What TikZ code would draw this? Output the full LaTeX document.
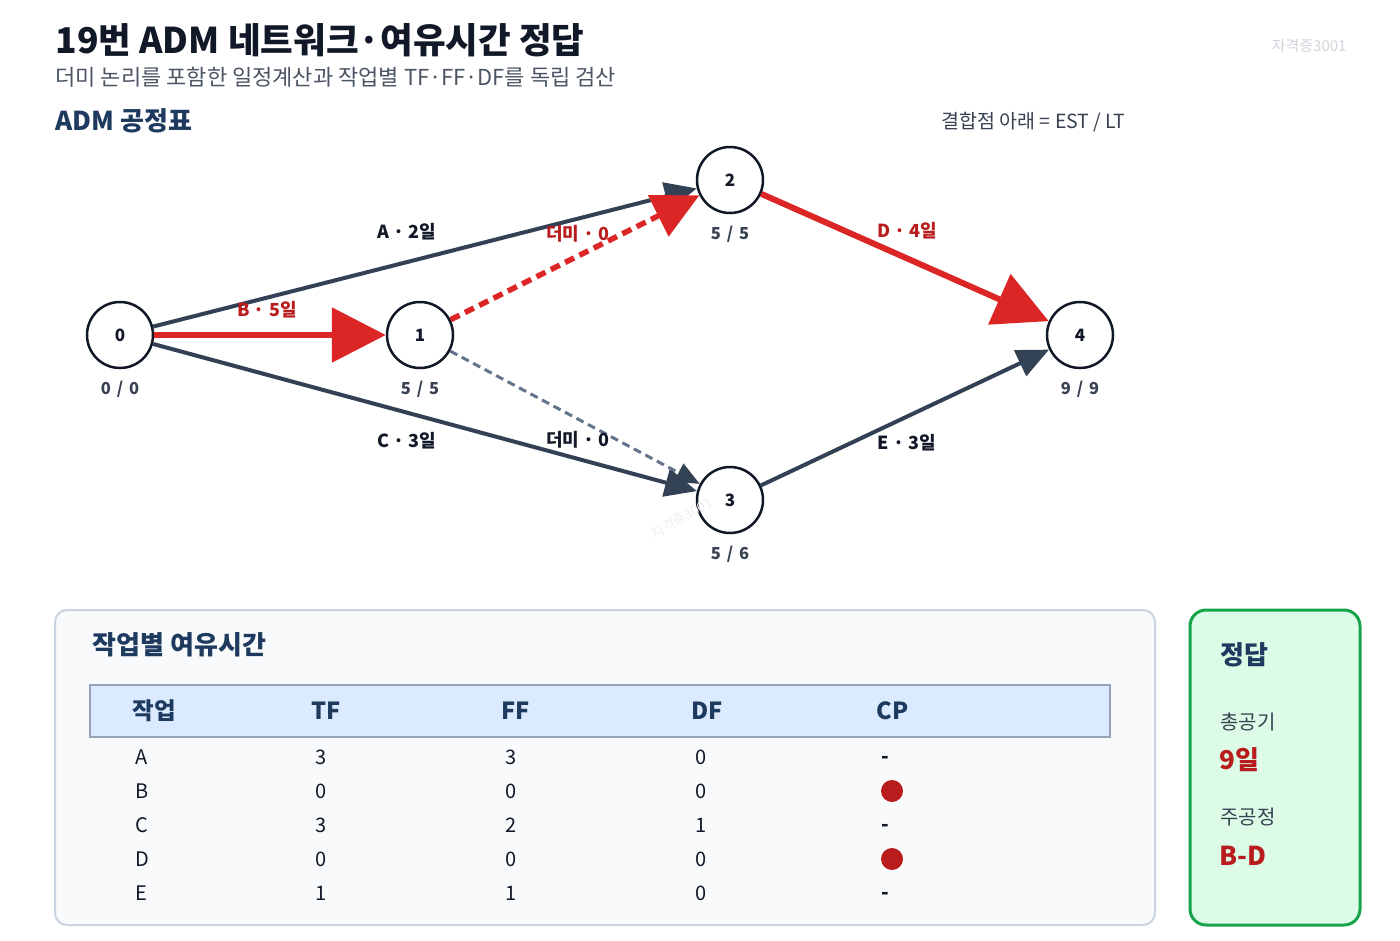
\documentclass[tikz,border=0pt]{standalone}
\usepackage{fontspec}
\setmainfont{Noto Sans CJK KR}
\usetikzlibrary{arrows.meta}
\definecolor{ink}{HTML}{111827}
\definecolor{navy}{HTML}{1E3A5F}
\definecolor{slate}{HTML}{334155}
\definecolor{grayd}{HTML}{64748B}
\definecolor{redl}{HTML}{DC2626}
\definecolor{redt}{HTML}{B91C1C}
\definecolor{subc}{HTML}{4B5563}
\definecolor{lbl}{HTML}{374151}
\definecolor{panelbg}{HTML}{F8FAFC}
\definecolor{panelbd}{HTML}{CBD5E1}
\definecolor{headbg}{HTML}{DBEAFE}
\definecolor{headbd}{HTML}{94A3B8}
\definecolor{ansbg}{HTML}{DCFCE7}
\definecolor{ansbd}{HTML}{16A34A}
\definecolor{wm}{HTML}{D1D5DB}
\newcommand{\fsz}[1]{\fontsize{#1}{#1}\selectfont}
\newcommand{\slsep}{\hspace{6pt}/\hspace{6pt}}
\tikzset{
  evt/.style={circle, draw=ink, line width=2.5pt, fill=white, minimum size=66pt, inner sep=0pt, font=\bfseries\fsz{17}, text=ink},
  evlbl/.style={font=\bfseries\fsz{16.5}, text=lbl},
  act/.style={draw=slate, line width=4pt, -{Triangle[length=32pt,width=28pt]}},
  crit/.style={draw=redl, line width=6pt, -{Triangle[length=54pt,width=54pt]}},
  dumcrit/.style={draw=redl, line width=5.5pt, dash pattern=on 10pt off 6pt, -{Triangle[length=46pt,width=45pt]}},
  dum/.style={draw=grayd, line width=3pt, dash pattern=on 8pt off 5pt, -{Triangle[length=24pt,width=20pt,color=slate]}},
  elbl/.style={font=\bfseries\fsz{18}, text=ink},
  elblr/.style={font=\bfseries\fsz{18}, text=redt},
  thd/.style={anchor=west, font=\bfseries\fsz{23.5}, text=navy},
  tcell/.style={anchor=west, font=\fsz{20}, text=ink},
  anslbl/.style={anchor=west, font=\fsz{20}, text=lbl},
  ansval/.style={anchor=west, font=\bfseries\fsz{26}, text=redt},
}
\begin{document}
\begin{tikzpicture}[x=1pt,y=-1pt]
\useasboundingbox (0,0) rectangle (1400,940);
\fill[white] (0,0) rectangle (1400,940);

% header
\node[anchor=west, font=\bfseries\fsz{35.5}, text=ink] (title) at (52,40) {19번 ADM 네트워크·여유시간 정답};
\node[anchor=west, font=\fsz{22}, text=subc] (subtitle) at (52,77) {더미 논리를 포함한 일정계산과 작업별 TF·FF·DF를 독립 검산};
\node[anchor=east, font=\fsz{15}, text=wm] (wm1) at (1350,46) {자격증3001};
\node[anchor=west, font=\bfseries\fsz{26}, text=navy] (sect) at (52,121) {ADM 공정표};
\node[anchor=east, font=\fsz{19.5}, text=lbl] (legend) at (1129,122) {결합점 아래 = EST / LT};

% events
\node[evt] (n0) at (120,335) {0};
\node[evt] (n1) at (420,335) {1};
\node[evt] (n2) at (730,180) {2};
\node[evt] (n3) at (730,500) {3};
\node[evt] (n4) at (1080,335) {4};
\node[evlbl] (l0) at (120,389) {0\slsep 0};
\node[evlbl] (l1) at (420,389) {5\slsep 5};
\node[evlbl] (l2) at (730,234) {5\slsep 5};
\node[evlbl] (l3) at (730,554) {5\slsep 6};
\node[evlbl] (l4) at (1080,389) {9\slsep 9};

% activities
\draw[act] (n0) -- (n2);
\draw[act] (n0) -- (n3);
\draw[act] (n3) -- (n4);
\draw[dum] (n1) -- (n3);
\draw[dumcrit] (n1) -- (n2);
\draw[crit] (n0) -- (n1);
\draw[crit] (n2) -- (n4);

\node[elbl] (ea) at (407,232) {A · 2일};
\node[elblr] (eb) at (267,310) {B · 5일};
\node[elbl] (ec) at (407,441) {C · 3일};
\node[elblr] (ed) at (907,231) {D · 4일};
\node[elbl] (ee) at (907,443) {E · 3일};
\node[elblr] (ed1) at (578,234) {더미 · 0};
\node[elbl] (ed2) at (578,440) {더미 · 0};

\node[rotate=30, font=\fsz{13.5}, text=gray!12] (wm2) at (682,518) {자격증3001};

% table panel
\draw[fill=panelbg, draw=panelbd, line width=2pt, rounded corners=12pt] (55,610) rectangle (1155,925);
\node[anchor=west, font=\bfseries\fsz{26}, text=navy] (ttl) at (89,645) {작업별 여유시간};
\draw[fill=headbg, draw=headbd, line width=2pt] (90,685) rectangle (1110,737);
\node[thd] (h1) at (129,711) {작업};
\node[thd] (h2) at (308,711) {TF};
\node[thd] (h3) at (498,711) {FF};
\node[thd] (h4) at (688,711) {DF};
\node[thd] (h5) at (873,711) {CP};

\foreach \r/\y/\a/\b/\c in {A/757/3/3/0, B/791/0/0/0, C/825/3/2/1, D/859/0/0/0, E/893/1/1/0}{
  \node[tcell] (r\r a) at (132,\y) {\r};
  \node[tcell] (r\r b) at (312,\y) {\a};
  \node[tcell] (r\r c) at (502,\y) {\b};
  \node[tcell] (r\r d) at (692,\y) {\c};
}
\node[tcell, font=\bfseries\fsz{20}] (rAe) at (878,760) {-};
\node[tcell, font=\bfseries\fsz{20}] (rCe) at (878,828) {-};
\node[tcell, font=\bfseries\fsz{20}] (rEe) at (878,896) {-};
\fill[redt] (892,791) circle (11pt);
\fill[redt] (892,859) circle (11pt);

% answer box
\draw[fill=ansbg, draw=ansbd, line width=3pt, rounded corners=16pt] (1190,610) rectangle (1360,925);
\node[anchor=west, font=\bfseries\fsz{26}, text=navy] (at) at (1217,655) {정답};
\node[anslbl] (a1) at (1217,722) {총공기};
\node[ansval] (a2) at (1216,760) {9일};
\node[anslbl] (a3) at (1217,817) {주공정};
\node[ansval] (a4) at (1216,856) {B-D};
\end{tikzpicture}
\end{document}
